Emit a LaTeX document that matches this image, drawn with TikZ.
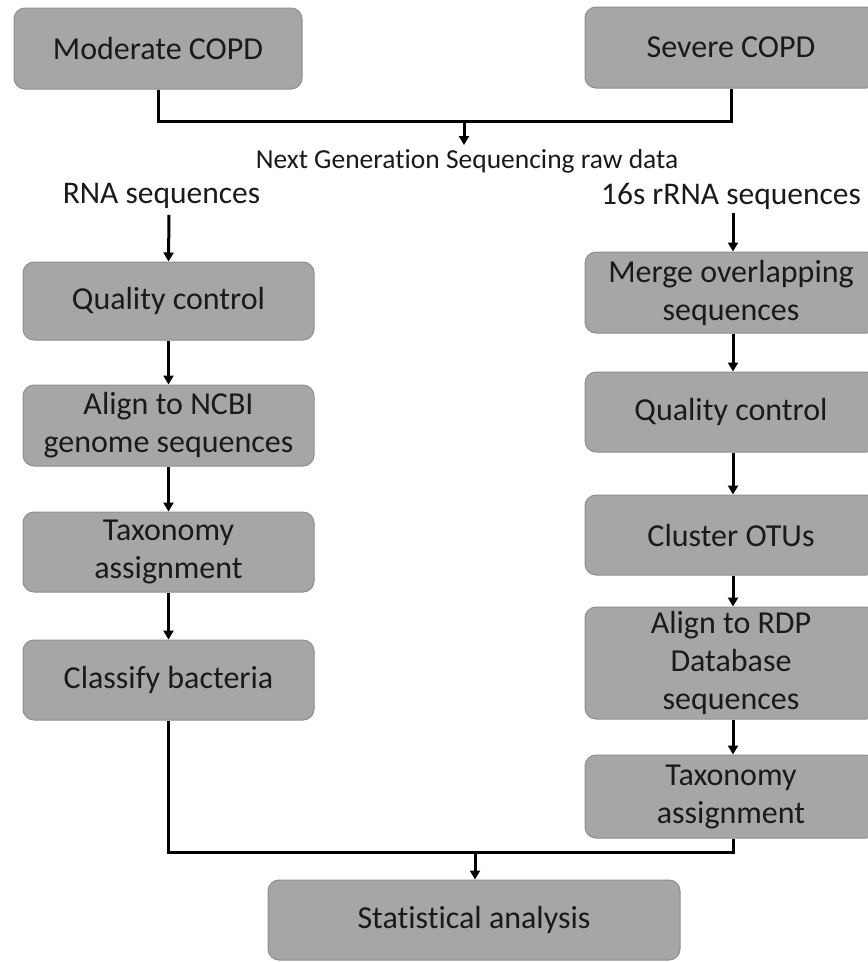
\documentclass[tikz,border=0pt]{standalone}
\usepackage{fontspec}
\setmainfont[RawFeature={-liga}]{Carlito}
\usetikzlibrary{arrows.meta,calc}
\definecolor{boxfill}{HTML}{A6A6A6}
\definecolor{boxline}{HTML}{8E8E8E}
\definecolor{txt}{HTML}{1A1A1A}
\tikzset{
  stepbox/.style={draw=boxline, line width=1pt, fill=boxfill, rounded corners=11pt,
    align=center, text=txt, font=\fontsize{32}{38}\selectfont, inner sep=0pt},
  lbl/.style={text=txt, inner sep=0pt, font=\fontsize{31.5}{36}\selectfont},
  conn/.style={line width=3pt, draw=black},
  arr/.style={conn, -{Triangle[width=10pt,length=9pt]}}
}
\begin{document}
\begin{tikzpicture}[x=1pt,y=-1pt]
\useasboundingbox (0,0) rectangle (868,962);
\clip (0,0) rectangle (868,962);
% top boxes
\node[stepbox, minimum width=288pt, minimum height=81pt] (mod) at (158,48.5) {Moderate COPD};
\node[stepbox, minimum width=292pt, minimum height=81pt] (sev) at (731,47.5) {Severe COPD};
\coordinate (j1) at (464,121);
\draw[conn] (mod.south) |- (j1) -| (sev.south);
\node[lbl, font=\fontsize{27.5}{32}\selectfont] (ngs) at (467,161) {Next Generation Sequencing\ raw data};
\draw[arr] (j1) -- ++(0,24);
% labels
\node[lbl] (rna) at (161.5,196) {RNA sequences};
\node[lbl] (srna) at (731,196) {16s rRNA sequences};
% left column
\node[stepbox, minimum width=291pt, minimum height=78pt] (qc1) at (168.5,301) {Quality control};
\node[stepbox, minimum width=291pt, minimum height=81pt] (ncbi) at (168.5,425.5) {Align to NCBI\\genome sequences};
\node[stepbox, minimum width=291pt, minimum height=80pt] (tax1) at (168.5,552) {Taxonomy\\assignment};
\node[stepbox, minimum width=291pt, minimum height=80pt] (cls) at (168.5,680) {Classify bacteria};
% right column
\node[stepbox, minimum width=292pt, minimum height=81pt] (merge) at (731,292.5) {Merge overlapping\\sequences};
\node[stepbox, minimum width=292pt, minimum height=80pt] (qc2) at (731,412) {Quality control};
\node[stepbox, minimum width=292pt, minimum height=80pt] (otu) at (731,535) {Cluster OTUs};
\node[stepbox, minimum width=292pt, minimum height=112pt] (rdp) at (731,663) {Align to RDP\\Database\\sequences};
\node[stepbox, minimum width=292pt, minimum height=83pt] (tax2) at (731,796.5) {Taxonomy\\assignment};
% bottom
\node[stepbox, minimum width=412pt, minimum height=80pt] (stat) at (474,920) {Statistical analysis};
% arrows
\draw[arr] ([shift={(7.5,0)}]rna.south) ++(0,6) -- ([shift={(0,0)}]qc1.north);
\draw[arr] (qc1.south) -- (ncbi.north);
\draw[arr] (ncbi.south) -- (tax1.north);
\draw[arr] (tax1.south) -- (cls.north);
\draw[arr] ([shift={(2,0)}]srna.south) ++(0,4) -- ([shift={(2,0)}]merge.north);
\draw[arr] ([shift={(2,0)}]merge.south) -- ([shift={(2,0)}]qc2.north);
\draw[arr] ([shift={(2,0)}]qc2.south) -- ([shift={(2,0)}]otu.north);
\draw[arr] ([shift={(2,0)}]otu.south) -- ([shift={(2,0)}]rdp.north);
\draw[arr] ([shift={(2,0)}]rdp.south) -- ([shift={(2,0)}]tax2.north);
\coordinate (j2) at (475,852);
\draw[conn] (cls.south) |- (j2) -| ([shift={(2,0)}]tax2.south);
\draw[arr] (j2) -- (stat.north -| j2);
\end{tikzpicture}
\end{document}
